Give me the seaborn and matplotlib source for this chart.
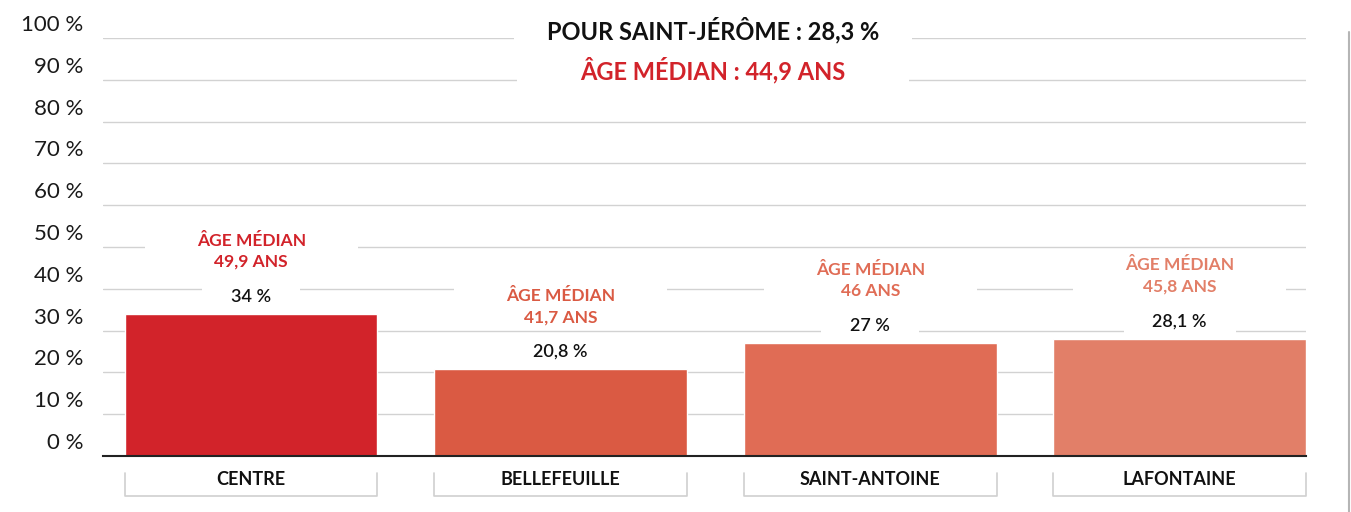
import matplotlib
matplotlib.use("Agg")
import matplotlib.pyplot as plt
import matplotlib.transforms as mtransforms
import seaborn as sns
import pandas as pd
from matplotlib.path import Path
from matplotlib.lines import Line2D

# data
districts = ["CENTRE", "BELLEFEUILLE", "SAINT-ANTOINE", "LAFONTAINE"]
shares = [34.0, 20.8, 27.0, 28.1]
share_labels = ["34 %", "20,8 %", "27 %", "28,1 %"]
median_ages = ["49,9 ANS", "41,7 ANS", "46 ANS", "45,8 ANS"]
bar_colors = ["#d2232a", "#da5a43", "#e06c55", "#e27f68"]
y_ticks = [0, 10, 20, 30, 40, 50, 60, 70, 80, 90, 100]
y_tick_labels = ["0 %", "10 %", "20 %", "30 %", "40 %", "50 %",
                 "60 %", "70 %", "80 %", "90 %", "100 %"]
city_line = "POUR SAINT-JÉRÔME : 28,3 %"
city_age_line = "ÂGE MÉDIAN : 44,9 ANS"


def wide_box(hpad, vpad):
    # white box, wider than tall, to cut the gridlines behind a label
    def style(x0, y0, width, height, mutation_size):
        h = hpad * mutation_size
        v = vpad * mutation_size
        return Path([(x0 - h, y0 - v), (x0 + width + h, y0 - v),
                     (x0 + width + h, y0 + height + v), (x0 - h, y0 + height + v),
                     (x0 - h, y0 - v)], closed=True)
    return style


sns.set_theme(style="whitegrid")
plt.rcParams['font.family'] = ['Lato', 'DejaVu Sans']

fig = plt.figure(figsize=(13.51, 5.12), dpi=100)
ax = fig.add_axes([0.0762, 0.1094, 0.8905, 0.8164])

df = pd.DataFrame({"district": districts, "share": shares})
sns.barplot(data=df, x="district", y="share", hue="district", palette=bar_colors,
            saturation=1, width=0.816, legend=False, ax=ax, zorder=2)

ax.set_xlim(-0.479, 3.408)
ax.set_ylim(0, 100)
ax.set_yticks(y_ticks, y_tick_labels)
ax.set_xticks(range(len(districts)), districts)
ax.set_xlabel("")
ax.set_ylabel("")
ax.tick_params(axis="y", length=0, pad=14, labelsize=16, labelcolor="#1a1a1a")
ax.tick_params(axis="x", length=0, pad=11, labelsize=13, labelcolor="#111111")
for lbl in ax.get_xticklabels():
    lbl.set_fontweight("bold")

# y labels sit a little above their gridline
lift = mtransforms.ScaledTranslation(0, 0.15, fig.dpi_scale_trans)
for lbl in ax.get_yticklabels():
    lbl.set_transform(lbl.get_transform() + lift)

ax.grid(axis="x", visible=False)
ax.grid(axis="y", color="#d2d2d2", linewidth=1)
ax.set_axisbelow(True)
for side in ["left", "right", "top"]:
    ax.spines[side].set_visible(False)
ax.spines["bottom"].set_color("#222222")
ax.spines["bottom"].set_linewidth(1.5)
ax.spines["bottom"].set_zorder(3)

# bracket under each category label
trans = ax.get_xaxis_transform()
for p in ax.patches:
    x0 = p.get_x()
    x1 = x0 + p.get_width()
    ax.plot([x0, x0, x1, x1], [-0.041, -0.096, -0.096, -0.041], transform=trans,
            color="#d0d0d0", lw=1.2, clip_on=False)

# value and median age labels
for i, (val, lab, age, col) in enumerate(zip(shares, share_labels, median_ages, bar_colors)):
    ax.annotate(lab, xy=(i, val), xytext=(0, 12.5), textcoords="offset points",
                ha="center", va="center", fontsize=13, fontweight="semibold", color="#111111",
                bbox=dict(boxstyle=wide_box(1.6, 0.2), fc="white", ec="none"), zorder=4)
    ax.annotate("ÂGE MÉDIAN\n" + age, xy=(i, val), xytext=(0, 45), textcoords="offset points",
                ha="center", va="center", fontsize=12.5, fontweight="bold", color=col,
                linespacing=1.4,
                bbox=dict(boxstyle=wide_box(3.0, 0.3), fc="white", ec="none"), zorder=4)

# city summary at the top
fig.text(0.5278, 0.9414, city_line, ha="center", va="center", fontsize=17,
         fontweight="bold", color="#111111",
         bbox=dict(boxstyle=wide_box(1.4, 0.15), fc="white", ec="none"))
fig.text(0.5278, 0.8633, city_age_line, ha="center", va="center", fontsize=17,
         fontweight="bold", color="#d2232a",
         bbox=dict(boxstyle=wide_box(2.7, 0.15), fc="white", ec="none"))

# thin border on the right
fig.add_artist(Line2D([0.9985, 0.9985], [0, 1 - 32 / 512], transform=fig.transFigure,
                      color="#b5b5b5", lw=1.5))

fig.savefig("out.png", dpi=100)
